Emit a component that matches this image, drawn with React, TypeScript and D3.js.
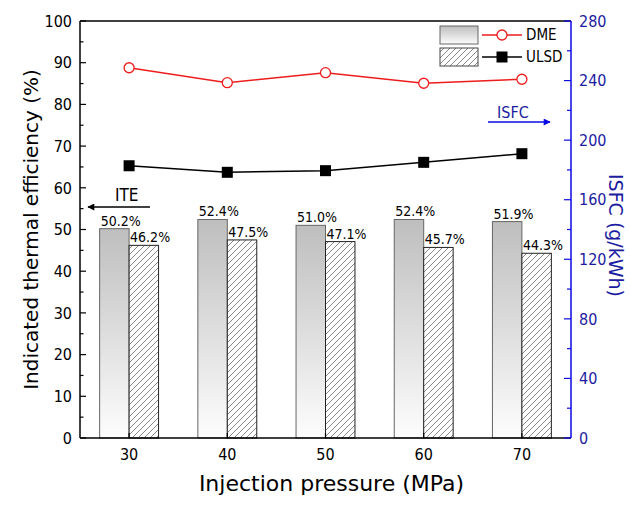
import React from "react";
import * as d3 from "d3";

// injection pressure (MPa)
const categories = [30, 40, 50, 60, 70];
// indicated thermal efficiency (%) - bars
const iteDME = [50.2, 52.4, 51.0, 52.4, 51.9];
const iteULSD = [46.2, 47.5, 47.1, 45.7, 44.3];
// ISFC (g/kWh) - lines on right axis
const isfcDME = [248.6, 238.6, 245.3, 238.2, 240.9];
const isfcULSD = [182.8, 178.4, 179.5, 185.1, 190.9];
// axis ticks
const leftTicks = [0, 10, 20, 30, 40, 50, 60, 70, 80, 90, 100];
const leftMinor = [5, 15, 25, 35, 45, 55, 65, 75, 85, 95];
const rightTicks = [0, 40, 80, 120, 160, 200, 240, 280];
const rightMinor = [20, 60, 100, 140, 180, 220, 260];

const W = 631, H = 506;
const margin = { top: 21, right: 60, bottom: 68, left: 80 };
const FONT = "'DejaVu Sans Condensed', 'DejaVu Sans', sans-serif";
const TITLE_FONT = "'DejaVu Sans', sans-serif";
const BLUE = "#0a0ae6";
const NAVY = "#1c1ca0";
const RED = "#ee1c1c";

export default function App() {
  const x0 = margin.left, x1 = W - margin.right;
  const y0 = H - margin.bottom, y1 = margin.top;

  const x = d3.scalePoint<string>()
    .domain(categories.map(String))
    .range([x0, x1])
    .padding(0.5);
  const yL = d3.scaleLinear().domain([0, 100]).range([y0, y1]);
  const yR = d3.scaleLinear().domain([0, 280]).range([y0, y1]);
  const bw = x.step() * 0.3;

  const line = d3.line<number>()
    .x((_, i) => x(String(categories[i]))!)
    .y(d => yR(d));

  return (
    <svg width={W} height={H} style={{ position: "absolute", left: 0, top: 0, background: "#fff" }} fontFamily={FONT}>
      <defs>
        <linearGradient id="gDME" x1="0" y1="0" x2="0" y2="1">
          <stop offset="0" stopColor="#bebebe" />
          <stop offset="1" stopColor="#fdfdfd" />
        </linearGradient>
        <pattern id="hatch" patternUnits="userSpaceOnUse" width="6" height="6">
          <rect width="6" height="6" fill="#fff" />
          <path d="M-1,1 l2,-2 M0,6 l6,-6 M5,7 l2,-2" stroke="#555" strokeWidth="0.7" />
        </pattern>
        <marker id="arrK" viewBox="0 0 10 10" refX="9" refY="5" markerWidth="9" markerHeight="7" orient="auto" markerUnits="userSpaceOnUse">
          <path d="M0,0 L10,5 L0,10 z" fill="#000" />
        </marker>
        <marker id="arrB" viewBox="0 0 10 10" refX="9" refY="5" markerWidth="9" markerHeight="7" orient="auto" markerUnits="userSpaceOnUse">
          <path d="M0,0 L10,5 L0,10 z" fill={BLUE} />
        </marker>
      </defs>

      {/* bars */}
      {categories.map((c, i) => {
        const cx = x(String(c))!;
        return (
          <g key={c}>
            <rect x={cx - bw} y={yL(iteDME[i])} width={bw} height={y0 - yL(iteDME[i])}
              fill="url(#gDME)" stroke="#666" strokeWidth={1} />
            <rect x={cx} y={yL(iteULSD[i])} width={bw} height={y0 - yL(iteULSD[i])}
              fill="url(#hatch)" stroke="#222" strokeWidth={1} />
            <text x={cx - bw + 1} y={yL(iteDME[i]) - 3} fontSize={14}>{iteDME[i].toFixed(1)}%</text>
            <text x={cx + 1} y={yL(iteULSD[i]) - 3} fontSize={14}>{iteULSD[i].toFixed(1)}%</text>
          </g>
        );
      })}

      {/* ISFC lines */}
      <path d={line(isfcDME)!} fill="none" stroke={RED} strokeWidth={1.5} />
      {isfcDME.map((v, i) => (
        <circle key={i} cx={x(String(categories[i]))} cy={yR(v)} r={5} fill="#fff" stroke={RED} strokeWidth={1.3} />
      ))}
      <path d={line(isfcULSD)!} fill="none" stroke="#000" strokeWidth={1.5} />
      {isfcULSD.map((v, i) => (
        <rect key={i} x={x(String(categories[i]))! - 5.5} y={yR(v) - 5.5} width={11} height={11} fill="#000" />
      ))}

      {/* frame */}
      <line x1={x0} x2={x1} y1={y1} y2={y1} stroke="#000" strokeWidth={1.5} />
      <line x1={x0} x2={x1} y1={y0} y2={y0} stroke="#000" strokeWidth={1.5} />
      <line x1={x0} x2={x0} y1={y1} y2={y0} stroke="#000" strokeWidth={1.5} />
      <line x1={x1} x2={x1} y1={y1} y2={y0} stroke={BLUE} strokeWidth={1.5} />

      {/* left axis */}
      {leftTicks.map(t => (
        <g key={t}>
          <line x1={x0} x2={x0 + 6} y1={yL(t)} y2={yL(t)} stroke="#000" strokeWidth={1.2} />
          <text x={x0 - 8} y={yL(t)} dy="0.36em" textAnchor="end" fontSize={16}>{t}</text>
        </g>
      ))}
      {leftMinor.map(t => (
        <line key={t} x1={x0} x2={x0 + 3.5} y1={yL(t)} y2={yL(t)} stroke="#000" strokeWidth={1.2} />
      ))}

      {/* right axis */}
      {rightTicks.map(t => (
        <g key={t}>
          <line x1={x1} x2={x1 - 7} y1={yR(t)} y2={yR(t)} stroke={BLUE} strokeWidth={1.2} />
          <text x={x1 + 8} y={yR(t)} dy="0.36em" fontSize={16} fill={NAVY}>{t}</text>
        </g>
      ))}
      {rightMinor.map(t => (
        <line key={t} x1={x1} x2={x1 - 4} y1={yR(t)} y2={yR(t)} stroke={BLUE} strokeWidth={1.2} />
      ))}

      {/* bottom axis */}
      {categories.map(c => (
        <g key={c}>
          <line x1={x(String(c))} x2={x(String(c))} y1={y0} y2={y0 - 5} stroke="#000" strokeWidth={1.2} />
          <text x={x(String(c))} y={y0 + 22} textAnchor="middle" fontSize={16}>{c}</text>
        </g>
      ))}

      {/* axis titles */}
      <text x={(x0 + x1) / 2 + 6} y={491} textAnchor="middle" fontSize={22} fontFamily={TITLE_FONT}>Injection pressure (MPa)</text>
      <text transform={`translate(38,${(y0 + y1) / 2}) rotate(-90)`} textAnchor="middle" fontSize={20} fontFamily={TITLE_FONT}>Indicated thermal efficiency (%)</text>
      <text transform={`translate(609,${(y0 + y1) / 2 + 6}) rotate(90)`} textAnchor="middle" fontSize={19} fill={NAVY} fontFamily={TITLE_FONT}>ISFC (g/kWh)</text>

      {/* ITE / ISFC arrows */}
      <text x={115} y={201} fontSize={17}>ITE</text>
      <line x1={150} x2={88} y1={207} y2={207} stroke="#000" strokeWidth={1.3} markerEnd="url(#arrK)" />
      <text x={497} y={118} fontSize={16} fill={NAVY}>ISFC</text>
      <line x1={488} x2={550} y1={122} y2={122} stroke={BLUE} strokeWidth={1.3} markerEnd="url(#arrB)" />

      {/* legend */}
      <rect x={440} y={26} width={38} height={18} fill="url(#gDME)" stroke="#666" />
      <rect x={440} y={48} width={38} height={18} fill="url(#hatch)" stroke="#444" />
      <line x1={482} x2={522} y1={35} y2={35} stroke={RED} strokeWidth={1.5} />
      <circle cx={502} cy={35} r={5} fill="#fff" stroke={RED} strokeWidth={1.3} />
      <line x1={482} x2={522} y1={57} y2={57} stroke="#000" strokeWidth={1.5} />
      <rect x={496.5} y={51.5} width={11} height={11} fill="#000" />
      <text x={526} y={35} dy="0.36em" fontSize={15}>DME</text>
      <text x={526} y={57} dy="0.36em" fontSize={15}>ULSD</text>
    </svg>
  );
}
